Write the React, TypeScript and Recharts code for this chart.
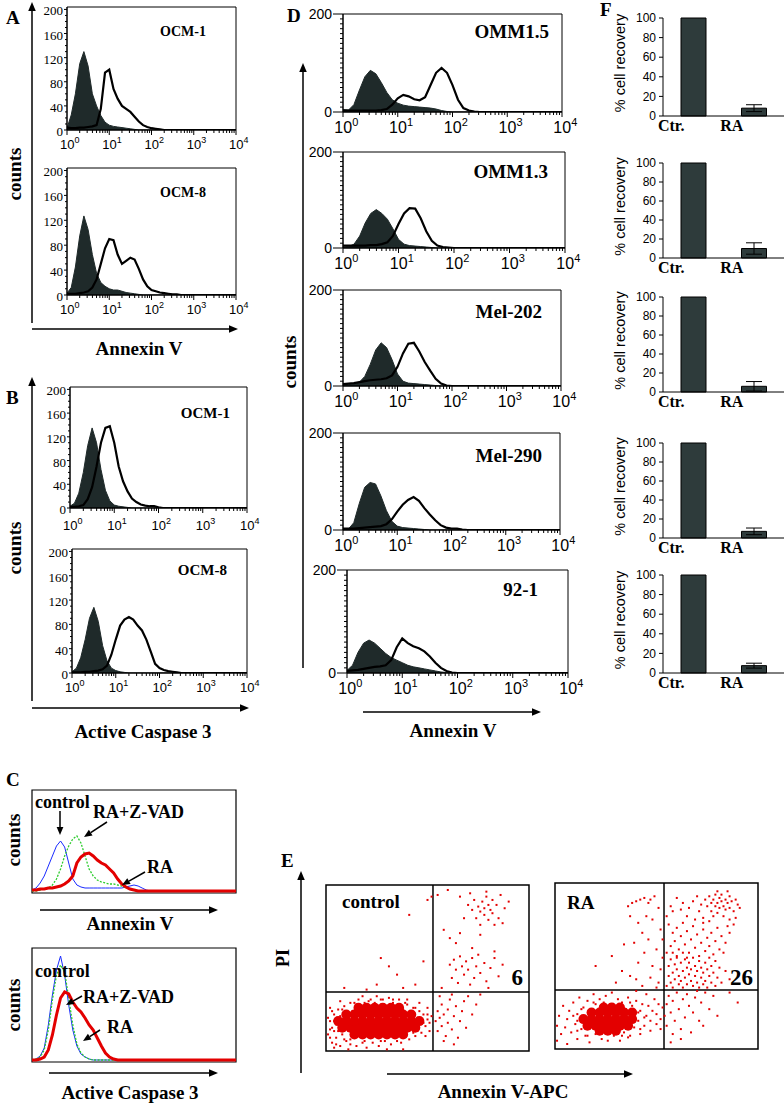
import React from 'react';
import {
  ComposedChart,
  Area,
  Line,
  XAxis,
  YAxis,
  ReferenceArea,
  ReferenceLine,
  ScatterChart,
  Scatter,
  BarChart,
  Bar,
  ErrorBar,
} from 'recharts';

const SERIF = '"Liberation Serif", "Times New Roman", serif';
const SANS = '"Liberation Sans", Arial, sans-serif';
const INK = '#000';
const FILLED = '#1f2a2a';
const RED = '#e30000';

// log channels, 10 per decade (10^0 .. 10^4)
const BINS = [
  1, 1.26, 1.58, 2, 2.51, 3.16, 3.98, 5.01, 6.31, 7.94, 10, 12.6, 15.8, 20, 25.1, 31.6, 39.8, 50.1, 63.1,
  79.4, 100, 126, 158, 200, 251, 316, 398, 501, 631, 794, 1000, 1259, 1585, 1995, 2512, 3162, 3981, 5012,
  6310, 7943, 10000,
];
const X_TICKS = [
  1, 2, 3, 4, 5, 6, 7, 8, 9, 10, 20, 30, 40, 50, 60, 70, 80, 90, 100, 200, 300, 400, 500, 600, 700, 800,
  900, 1000, 2000, 3000, 4000, 5000, 6000, 7000, 8000, 9000, 10000,
];
const X_LABEL_VALUES = [1, 10, 100, 1000, 10000];
const X_LABEL_EXP = ['0', '1', '2', '3', '4'];

const COUNT_TICKS = [0, 10, 20, 30, 40, 50, 60, 70, 80, 90, 100, 110, 120, 130, 140, 150, 160, 170, 180, 190, 200];
const AB_COUNT_LABELS = [0, 40, 80, 120, 160, 200];
const D_COUNT_LABELS = [0, 200];

// panel A (Annexin V) - filled = control, open = RA
const A_OCM1_FILLED = [3, 25, 60, 110, 130, 106, 60, 40, 24, 13, 8, 6, 5, 4, 3, 2, 1];
const A_OCM1_OPEN = [4, 3, 3, 4, 4, 5, 6, 8, 35, 95, 100, 68, 52, 40, 35, 30, 22, 14, 8, 5, 3, 2, 1];
const A_OCM8_FILLED = [3, 12, 45, 95, 127, 105, 65, 35, 20, 14, 10, 8, 8, 6, 4, 3, 2, 1];
const A_OCM8_OPEN = [2, 2, 2, 3, 4, 6, 12, 25, 50, 75, 90, 88, 65, 50, 55, 60, 57, 42, 25, 14, 8, 6, 4, 3, 2, 1, 1];

// panel B (Active Caspase 3)
const B_OCM1_FILLED = [3, 8, 25, 60, 105, 135, 110, 65, 30, 12, 5, 3, 2, 1];
const B_OCM1_OPEN = [2, 2, 3, 5, 15, 35, 70, 110, 135, 138, 110, 70, 45, 28, 16, 10, 6, 4, 3, 3, 1];
const B_OCM8_FILLED = [2, 8, 25, 55, 90, 108, 85, 45, 20, 8, 4, 2, 1];
const B_OCM8_OPEN = [1, 1, 1, 2, 2, 3, 4, 6, 12, 30, 55, 78, 88, 92, 88, 78, 70, 55, 35, 15, 8, 5, 3, 2, 1];

// panel C (relative units, 51 channels across)
const C_CHANNELS = 51;
const C1_CONTROL = [1, 3, 8, 15, 25, 35, 45, 50, 44, 28, 12, 6, 4, 3, 3, 3, 3, 3, 3, 3, 3, 3, 3, 4, 5, 6, 5, 3, 1];
const C1_ZVAD = [0, 0, 1, 2, 3, 6, 12, 22, 35, 45, 52, 55, 48, 35, 22, 15, 11, 9, 8, 7, 7, 6, 5, 3, 2, 1];
const C1_RA = [1, 1, 2, 2, 3, 3, 4, 5, 7, 10, 15, 28, 34, 37, 38, 35, 31, 28, 26, 22, 18, 12, 7, 4, 2, 1];
const C2_CONTROL = [0, 1, 4, 12, 35, 65, 90, 104, 85, 55, 30, 14, 6, 3, 1];
const C2_ZVAD = [0, 1, 3, 10, 30, 60, 85, 95, 88, 62, 35, 16, 7, 3, 1];
const C2_RA = [0, 0, 1, 3, 10, 25, 45, 62, 68, 66, 58, 52, 48, 42, 35, 30, 22, 14, 7, 3, 1];

// panel D (Annexin V, five cell lines)
const D_TITLES = ['OMM1.5', 'OMM1.3', 'Mel-202', 'Mel-290', '92-1'];
const D_OMM15_FILLED = [5, 4, 15, 45, 72, 85, 78, 60, 40, 25, 18, 14, 12, 11, 10, 9, 8, 6, 3, 1];
const D_OMM15_OPEN = [3, 3, 3, 3, 3, 3, 3, 4, 6, 15, 28, 35, 32, 26, 24, 30, 55, 80, 90, 80, 55, 25, 8, 3, 1];
const D_OMM13_FILLED = [2, 3, 8, 25, 52, 72, 80, 72, 60, 40, 18, 8, 5, 4, 3, 2, 1];
const D_OMM13_OPEN = [5, 5, 5, 5, 5, 6, 6, 8, 12, 25, 50, 72, 83, 82, 62, 35, 15, 5, 2, 1];
const D_MEL202_FILLED = [5, 3, 4, 8, 20, 45, 75, 90, 80, 55, 25, 10, 6, 5, 4, 3, 2, 1];
const D_MEL202_OPEN = [4, 5, 6, 8, 10, 12, 13, 14, 16, 22, 40, 68, 88, 90, 72, 50, 32, 15, 5, 1];
const D_MEL290_FILLED = [3, 2, 15, 55, 88, 98, 95, 70, 40, 18, 8, 5, 4, 3, 2, 1];
const D_MEL290_OPEN = [3, 3, 3, 4, 5, 6, 7, 8, 12, 22, 38, 52, 62, 68, 60, 45, 32, 20, 10, 5, 3, 3, 1];
const D_921_FILLED = [5, 15, 40, 58, 64, 58, 48, 38, 30, 25, 20, 15, 12, 10, 8, 6, 4, 2, 1];
const D_921_OPEN = [4, 5, 6, 8, 10, 12, 13, 15, 25, 50, 67, 58, 52, 48, 42, 32, 20, 10, 4, 1];

// panel E (Annexin V-APC vs PI, plot units 0-100)
const E_CONTROL_CORE = [
  [14, 10], [18, 10], [22, 10], [26, 10], [30, 10], [34, 10], [38, 10],
  [8, 14], [12, 14], [16, 14], [20, 14], [24, 14], [28, 14], [32, 14], [36, 14], [40, 14], [44, 14],
  [6, 18], [10, 18], [14, 18], [18, 18], [22, 18], [26, 18], [30, 18], [34, 18], [38, 18], [42, 18], [46, 18],
  [10, 22], [14, 22], [18, 22], [22, 22], [26, 22], [30, 22], [34, 22], [38, 22], [42, 22],
  [16, 26], [20, 26], [24, 26], [28, 26], [32, 26], [36, 26],
];
const E_CONTROL_DOTS = [
  [1, 10], [2, 18], [3, 5], [3, 14], [4, 22], [5, 8], [5, 16], [6, 12], [6, 25], [7, 3], [8, 19], [8, 10], [9, 27],
  [10, 6], [10, 22], [11, 13], [12, 29], [12, 4], [13, 24], [14, 8], [15, 28], [15, 3], [16, 31], [17, 26], [18, 5],
  [19, 29], [20, 2], [21, 27], [22, 31], [23, 5], [24, 29], [25, 33], [26, 3], [27, 28], [28, 31], [29, 6], [30, 27],
  [31, 32], [32, 4], [33, 29], [34, 8], [35, 27], [36, 31], [37, 5], [38, 25], [39, 10], [40, 28], [41, 7], [42, 22],
  [42, 13], [43, 26], [44, 9], [45, 20], [45, 14], [46, 24], [47, 11], [47, 18], [48, 22], [49, 15], [49, 9], [50, 19],
  [50, 26], [51, 12], [51, 17], [52, 21], [46, 29], [40, 31], [30, 1], [18, 33], [38, 1], [2, 26], [4, 2], [7, 30], [11, 1],
  [1, 20], [2, 8], [3, 24], [4, 12], [5, 4], [7, 21], [9, 7], [12, 7], [19, 6], [27, 6], [35, 6], [43, 11], [48, 17],
  [50, 22], [44, 26], [39, 29], [33, 31], [27, 31], [21, 30], [14, 29], [8, 25], [4, 18], [2, 13],
  [54, 18], [55, 24], [55, 12], [56, 20], [57, 28], [57, 15], [58, 22], [59, 9], [60, 25], [60, 17], [61, 31], [62, 13],
  [63, 21], [64, 27], [65, 8], [66, 18], [67, 24], [68, 30], [69, 14], [70, 33], [72, 22], [74, 28], [76, 34], [58, 6],
  [63, 4], [56, 33], [62, 34],
  [50, 91], [52, 93], [41, 82], [27, 56], [31, 51], [35, 46], [48, 54], [9, 38], [25, 40], [44, 40], [20, 37], [38, 38],
  [66, 93], [70, 88], [72, 85], [73, 91], [74, 80], [75, 87], [76, 84], [77, 90], [78, 86], [78, 82], [79, 93], [80, 88],
  [80, 79], [81, 85], [82, 91], [82, 83], [84, 88], [85, 80], [86, 94], [88, 86], [90, 90], [76, 76], [83, 76], [68, 80],
  [71, 95], [87, 77], [79, 96], [60, 97], [55, 94], [58, 73], [61, 68], [64, 65], [66, 71], [76, 70], [83, 60], [72, 62],
  [61, 52], [63, 55], [64, 49], [66, 57], [67, 51], [68, 46], [69, 54], [70, 49], [72, 56], [73, 44], [74, 51], [75, 58],
  [76, 47], [78, 53], [79, 42], [81, 50], [83, 56], [85, 45], [87, 52], [62, 44], [65, 41], [71, 40], [57, 38], [80, 38],
];
const E_RA_CORE = [
  [22, 11], [26, 11], [30, 11],
  [16, 14], [20, 14], [24, 14], [28, 14], [32, 14], [36, 14],
  [14, 18], [18, 18], [22, 18], [26, 18], [30, 18], [34, 18], [38, 18],
  [18, 22], [22, 22], [26, 22], [30, 22], [34, 22], [38, 22],
  [24, 25], [28, 25], [32, 25],
];
const E_RA_DOTS = [
  [1, 5], [1, 14], [2, 20], [3, 9], [4, 26], [5, 13], [6, 3], [6, 18], [7, 23], [8, 10], [9, 28], [10, 15], [11, 6],
  [11, 21], [12, 31], [13, 12], [14, 25], [15, 8], [15, 18], [16, 29], [17, 4], [18, 23], [19, 33], [20, 9], [20, 27],
  [21, 14], [22, 30], [23, 6], [24, 28], [25, 32], [26, 5], [27, 27], [28, 34], [29, 8], [30, 25], [31, 30], [32, 5],
  [33, 28], [34, 10], [35, 24], [36, 31], [37, 8], [38, 26], [39, 13], [40, 29], [41, 17], [42, 9], [42, 23], [43, 27],
  [44, 14], [45, 20], [46, 26], [47, 11], [47, 17], [48, 23], [49, 30], [50, 15], [50, 21], [51, 27], [52, 12], [52, 18],
  [53, 25], [45, 33], [40, 35], [9, 20], [11, 11], [13, 24], [16, 8], [19, 28], [33, 8], [37, 28], [41, 22], [42, 12],
  [44, 19], [36, 7], [11, 17],
  [36, 86], [38, 88], [40, 89], [42, 90], [44, 91], [46, 88], [47, 90], [49, 92], [37, 80], [41, 76], [45, 80], [48, 78],
  [51, 85], [43, 70], [39, 64], [46, 66], [50, 60], [52, 72], [44, 58], [48, 50], [52, 48], [41, 52], [47, 43], [51, 40],
  [37, 44], [33, 47], [43, 38], [50, 37], [20, 50], [28, 56], [34, 63], [53, 66], [53, 55], [40, 42], [30, 40],
  [74, 90], [75, 86], [76, 92], [77, 88], [77, 83], [78, 90], [79, 86], [79, 93], [80, 88], [80, 82], [81, 91], [81, 85],
  [82, 89], [82, 93], [83, 86], [83, 80], [84, 90], [84, 84], [85, 88], [86, 92], [86, 85], [87, 89], [88, 83], [89, 90],
  [90, 87], [78, 80], [85, 95], [80, 95], [91, 85], [72, 87], [70, 92], [68, 89], [71, 83], [66, 85], [63, 88], [60, 91],
  [57, 86], [55, 80], [58, 83], [62, 84], [65, 80], [69, 78], [73, 79], [76, 77], [86, 78], [89, 79],
  [56, 75], [58, 70], [59, 65], [60, 73], [61, 60], [62, 68], [63, 76], [64, 63], [65, 71], [66, 58], [67, 66], [68, 74],
  [69, 61], [70, 69], [71, 56], [72, 64], [73, 72], [74, 59], [75, 67], [76, 62], [77, 70], [78, 57], [79, 65], [80, 73],
  [81, 60], [82, 68], [84, 64], [86, 70], [88, 75], [57, 62], [55, 58], [83, 58], [60, 56], [65, 55], [73, 76], [85, 74],
  [55, 38], [56, 44], [56, 50], [57, 40], [57, 54], [58, 46], [58, 37], [59, 42], [59, 51], [60, 48], [60, 55], [61, 39],
  [61, 44], [62, 52], [62, 41], [63, 47], [63, 37], [64, 54], [64, 43], [65, 49], [65, 39], [66, 45], [66, 52], [67, 41],
  [67, 48], [68, 55], [68, 38], [69, 44], [69, 50], [70, 40], [70, 47], [71, 53], [71, 37], [72, 43], [72, 49], [73, 39],
  [73, 46], [74, 52], [74, 41], [75, 48], [75, 37], [76, 44], [77, 50], [77, 40], [78, 46], [79, 38], [80, 43], [81, 49],
  [82, 40], [76, 55], [79, 53], [84, 47], [86, 42], [58, 58], [63, 58],
  [54, 20], [55, 27], [55, 14], [56, 32], [57, 22], [58, 9], [58, 29], [59, 17], [60, 34], [61, 24], [62, 12], [63, 30],
  [64, 19], [65, 33], [66, 26], [67, 10], [68, 22], [69, 31], [70, 35], [71, 17], [72, 28], [74, 34], [76, 24], [78, 32],
  [80, 20], [73, 14], [57, 4], [62, 6], [86, 34], [90, 28],
];

// panel F (% cell recovery)
const F_CATEGORIES = ['Ctr.', 'RA'];
const F_CTR = [100, 100, 100, 100, 100];
const F_RA = [8, 10, 6, 7, 7.5];
const F_RA_ERR = [3.5, 6, 5, 3.5, 2.5];
const F_TICKS = [0, 20, 40, 60, 80, 100];

type XTickStyle = { font: string; size: number; sup: number; dy: number };
type YTickStyle = { labels: number[]; font: string; size: number; major: number; minor: number; dy: number };

const makeLogTick = (s: XTickStyle) => (props: any) => {
  const { x, y, payload } = props;
  const idx = X_LABEL_VALUES.indexOf(payload.value);
  const major = idx >= 0;
  return (
    <g>
      <line x1={x} x2={x} y1={y} y2={y + (major ? 5 : 3)} stroke={INK} strokeWidth={1} />
      {major && (
        <text x={x + s.sup * 0.3} y={y + s.dy} textAnchor="middle" fontFamily={s.font} fontSize={s.size} fill={INK}>
          10
          <tspan dy={-s.size * 0.45} fontSize={s.sup}>
            {X_LABEL_EXP[idx]}
          </tspan>
        </text>
      )}
    </g>
  );
};

const makeCountTick = (s: YTickStyle) => (props: any) => {
  const { x, y, payload } = props;
  const lab = s.labels.includes(payload.value);
  return (
    <g>
      <line x1={x - (lab ? s.major : s.minor)} x2={x} y1={y} y2={y} stroke={INK} strokeWidth={1} />
      {lab && (
        <text x={x - s.major - 1} y={y + s.dy} textAnchor="end" fontFamily={s.font} fontSize={s.size} fill={INK}>
          {payload.value}
        </text>
      )}
    </g>
  );
};

const AB_X = { font: SANS, size: 13, sup: 9, dy: 19 };
const AB_Y = { labels: AB_COUNT_LABELS, font: SERIF, size: 13, major: 3, minor: 2, dy: 6 };
const D_X = { font: SANS, size: 16, sup: 11, dy: 21 };
const D_Y = { labels: D_COUNT_LABELS, font: SANS, size: 14, major: 10, minor: 3, dy: 5 };

const YW = 50;
const MT = 8;
const MR = 20;
const XH = 30;

type HistProps = {
  left: number;
  top: number;
  right: number;
  bottom: number;
  yMax: number;
  filled: number[];
  open: number[];
  xs: XTickStyle;
  ys: YTickStyle;
};

function Histogram({ left, top, right, bottom, yMax, filled, open, xs, ys }: HistProps) {
  const data = BINS.map((x, i) => ({ x, f: filled[i] ?? 0, o: open[i] ?? 0 }));
  const w = right - left;
  const h = bottom - top;
  return (
    <div style={{ position: 'absolute', left: left - YW, top: top - MT }}>
      <ComposedChart
        width={YW + w + MR}
        height={MT + h + XH}
        data={data}
        margin={{ top: MT, right: MR, bottom: 0, left: 0 }}
      >
        <XAxis
          dataKey="x"
          type="number"
          scale="log"
          domain={[1, 10000]}
          ticks={X_TICKS}
          interval={0}
          height={XH}
          tickSize={0}
          tickMargin={0}
          axisLine={{ stroke: INK }}
          tick={makeLogTick(xs)}
          allowDataOverflow
        />
        <YAxis
          type="number"
          domain={[0, yMax]}
          ticks={COUNT_TICKS}
          interval={0}
          width={YW}
          tickSize={0}
          tickMargin={0}
          axisLine={{ stroke: INK }}
          tick={makeCountTick(ys)}
          allowDataOverflow
        />
        <Area
          dataKey="f"
          type="linear"
          fill={FILLED}
          fillOpacity={1}
          stroke={FILLED}
          strokeWidth={1}
          dot={false}
          activeDot={false}
          isAnimationActive={false}
        />
        <Line
          dataKey="o"
          type="linear"
          stroke={INK}
          strokeWidth={2.2}
          dot={false}
          activeDot={false}
          isAnimationActive={false}
        />
        <ReferenceArea x1={1} x2={10000} y1={0} y2={yMax} fill="none" stroke={INK} strokeWidth={1} />
      </ComposedChart>
    </div>
  );
}

type OverlayProps = {
  left: number;
  top: number;
  right: number;
  bottom: number;
  yMax: number;
  control: number[];
  zvad: number[];
  ra: number[];
};

function OverlayHistogram({ left, top, right, bottom, yMax, control, zvad, ra }: OverlayProps) {
  const data = Array.from({ length: C_CHANNELS }, (_, i) => ({
    i,
    b: control[i] ?? 0,
    g: zvad[i] ?? 0,
    r: ra[i] ?? 0,
  }));
  const w = right - left;
  const h = bottom - top;
  return (
    <div style={{ position: 'absolute', left: left - 2, top: top - 2 }}>
      <ComposedChart width={w + 4} height={h + 4} data={data} margin={{ top: 2, right: 2, bottom: 2, left: 2 }}>
        <XAxis dataKey="i" type="number" domain={[0, C_CHANNELS - 1]} hide />
        <YAxis type="number" domain={[-2, yMax]} hide />
        <Line dataKey="b" type="linear" stroke="#1a2bff" strokeWidth={1} dot={false} activeDot={false} isAnimationActive={false} />
        <Line
          dataKey="g"
          type="linear"
          stroke="#2ccc2c"
          strokeWidth={1.3}
          strokeDasharray="2 1.5"
          dot={false}
          activeDot={false}
          isAnimationActive={false}
        />
        <Line dataKey="r" type="linear" stroke={RED} strokeWidth={3} dot={false} activeDot={false} isAnimationActive={false} />
        <ReferenceArea x1={0} x2={C_CHANNELS - 1} y1={-2} y2={yMax} fill="none" stroke={INK} strokeWidth={1.2} />
      </ComposedChart>
    </div>
  );
}

type DotProps = {
  left: number;
  top: number;
  right: number;
  bottom: number;
  qx: number;
  qy: number;
  core: number[][];
  dots: number[][];
};

const toXY = (pts: number[][]) => pts.map(([x, y]) => ({ x, y }));

function DotPlot({ left, top, right, bottom, qx, qy, core, dots }: DotProps) {
  const w = right - left;
  const h = bottom - top;
  return (
    <div style={{ position: 'absolute', left: left - 3, top: top - 3 }}>
      <ScatterChart width={w + 6} height={h + 6} margin={{ top: 3, right: 3, bottom: 3, left: 3 }}>
        <XAxis type="number" dataKey="x" domain={[0, 100]} hide />
        <YAxis type="number" dataKey="y" domain={[0, 100]} hide />
        <Scatter
          data={toXY(core)}
          isAnimationActive={false}
          shape={(p: any) => <circle cx={p.cx} cy={p.cy} r={5} fill={RED} />}
        />
        <Scatter
          data={toXY(dots)}
          isAnimationActive={false}
          shape={(p: any) => <rect x={p.cx - 1} y={p.cy - 1} width={2} height={2} fill={RED} />}
        />
        <ReferenceLine x={qx} stroke={INK} strokeWidth={1.5} />
        <ReferenceLine y={qy} stroke={INK} strokeWidth={1.5} />
        <ReferenceArea x1={0} x2={100} y1={0} y2={100} fill="none" stroke={INK} strokeWidth={1.5} />
      </ScatterChart>
    </div>
  );
}

const categoryTick = (props: any) => {
  const { x, y, payload } = props;
  return (
    <text x={x - 22} y={y + 15} textAnchor="middle" fontFamily={SERIF} fontWeight="bold" fontSize={16} fill={INK}>
      {payload.value}
    </text>
  );
};

function RecoveryBars({ idx, y100, y0 }: { idx: number; y100: number; y0: number }) {
  const data = F_CATEGORIES.map((name, i) => ({
    name,
    v: i === 0 ? F_CTR[idx] : F_RA[idx],
    e: i === 0 ? 0 : F_RA_ERR[idx],
  }));
  const ph = y0 - y100;
  const mt = 8;
  return (
    <div style={{ position: 'absolute', left: 600, top: y100 - mt }}>
      <BarChart width={184} height={mt + ph + 24} data={data} margin={{ top: mt, right: 0, bottom: 0, left: 0 }} barSize={25}>
        <XAxis
          dataKey="name"
          height={24}
          tickLine={false}
          tickSize={0}
          tickMargin={0}
          axisLine={{ stroke: INK }}
          tick={categoryTick}
          interval={0}
        />
        <YAxis
          type="number"
          domain={[0, 100]}
          ticks={F_TICKS}
          interval={0}
          width={63}
          tickSize={4}
          tickMargin={3}
          axisLine={{ stroke: INK }}
          tickLine={{ stroke: INK }}
          tick={{ fontFamily: SANS, fontSize: 12, fill: INK }}
        />
        <Bar dataKey="v" fill="#2e3b3b" stroke={INK} strokeWidth={1} isAnimationActive={false}>
          <ErrorBar dataKey="e" width={8} stroke={INK} strokeWidth={1} />
        </Bar>
      </BarChart>
    </div>
  );
}

function Arrow({ x1, y1, x2, y2, w = 1.5, head = 9 }: { x1: number; y1: number; x2: number; y2: number; w?: number; head?: number }) {
  const a = Math.atan2(y2 - y1, x2 - x1);
  const hx = x2 - head * Math.cos(a);
  const hy = y2 - head * Math.sin(a);
  const px = Math.sin(a) * head * 0.42;
  const py = -Math.cos(a) * head * 0.42;
  return (
    <g>
      <line x1={x1} y1={y1} x2={hx} y2={hy} stroke={INK} strokeWidth={w} />
      <polygon points={`${x2},${y2} ${hx + px},${hy + py} ${hx - px},${hy - py}`} fill={INK} />
    </g>
  );
}

const bold = { fontFamily: SERIF, fontWeight: 'bold' as const, fill: INK };

function VText({ x, y, size, children, font }: { x: number; y: number; size: number; children: React.ReactNode; font?: string }) {
  return (
    <text
      x={x}
      y={y}
      transform={`rotate(-90, ${x}, ${y})`}
      textAnchor="middle"
      dominantBaseline="central"
      fontSize={size}
      {...(font ? { fontFamily: font, fill: INK } : bold)}
    >
      {children}
    </text>
  );
}

function Labels() {
  const F_ROWS = [
    [18, 116],
    [163, 258],
    [297, 392],
    [443, 538],
    [575, 673],
  ];
  return (
    <svg width={784} height={1103} style={{ position: 'absolute', left: 0, top: 0, pointerEvents: 'none' }}>
      {/* panel letters */}
      <text x={6} y={24} fontSize={19} {...bold}>A</text>
      <text x={6} y={404} fontSize={19} {...bold}>B</text>
      <text x={6} y={786} fontSize={19} {...bold}>C</text>
      <text x={287} y={22} fontSize={19} {...bold}>D</text>
      <text x={281} y={867} fontSize={19} {...bold}>E</text>
      <text x={600} y={16} fontSize={19} {...bold}>F</text>

      {/* A */}
      <Arrow x1={32} y1={323} x2={32} y2={2} />
      <Arrow x1={32} y1={329} x2={238} y2={329} />
      <VText x={14} y={174} size={19}>counts</VText>
      <text x={139} y={355} textAnchor="middle" fontSize={19} {...bold}>Annexin V</text>
      <text x={206} y={36} textAnchor="end" fontSize={14} {...bold}>OCM-1</text>
      <text x={206} y={197} textAnchor="end" fontSize={14} {...bold}>OCM-8</text>

      {/* B */}
      <Arrow x1={32} y1={701} x2={32} y2={377} />
      <Arrow x1={32} y1={708} x2={249} y2={708} />
      <VText x={14} y={548} size={19}>counts</VText>
      <text x={143} y={738} textAnchor="middle" fontSize={19} {...bold}>Active Caspase 3</text>
      <text x={230} y={418} textAnchor="end" fontSize={15} {...bold}>OCM-1</text>
      <text x={227} y={575} textAnchor="end" fontSize={15} {...bold}>OCM-8</text>

      {/* C */}
      <VText x={13} y={840} size={19}>counts</VText>
      <Arrow x1={40} y1={910} x2={218} y2={910} />
      <text x={130} y={930} textAnchor="middle" fontSize={19} {...bold}>Annexin V</text>
      <text x={35} y={808} fontSize={18} {...bold}>control</text>
      <Arrow x1={60} y1={811} x2={60} y2={835} head={8} />
      <text x={93} y={818} fontSize={18} {...bold}>RA+Z-VAD</text>
      <Arrow x1={107} y1={822} x2={84} y2={837} head={8} />
      <text x={147} y={873} fontSize={18} {...bold}>RA</text>
      <Arrow x1={145} y1={872} x2={122} y2={885} head={8} />

      <VText x={13} y={1005} size={19}>counts</VText>
      <Arrow x1={49} y1={1073} x2={218} y2={1073} />
      <text x={130} y={1099} textAnchor="middle" fontSize={19} {...bold}>Active Caspase 3</text>
      <text x={35} y={977} fontSize={18} {...bold}>control</text>
      <text x={83} y={1003} fontSize={18} {...bold}>RA+Z-VAD</text>
      <Arrow x1={82} y1={996} x2={66} y2={1005} head={8} />
      <text x={107} y={1033} fontSize={18} {...bold}>RA</text>
      <Arrow x1={100} y1={1030} x2={83} y2={1041} head={8} />

      {/* D */}
      <Arrow x1={303} y1={668} x2={303} y2={63} />
      <Arrow x1={363} y1={712} x2={541} y2={712} />
      <VText x={289} y={362} size={19}>counts</VText>
      <text x={453} y={737} textAnchor="middle" fontSize={19} {...bold}>Annexin V</text>
      <text x={549} y={38} textAnchor="end" fontSize={19} {...bold}>{D_TITLES[0]}</text>
      <text x={548} y={178} textAnchor="end" fontSize={19} {...bold}>{D_TITLES[1]}</text>
      <text x={542} y={318} textAnchor="end" fontSize={19} {...bold}>{D_TITLES[2]}</text>
      <text x={542} y={462} textAnchor="end" fontSize={19} {...bold}>{D_TITLES[3]}</text>
      <text x={538} y={596} textAnchor="end" fontSize={19} {...bold}>{D_TITLES[4]}</text>

      {/* E */}
      <Arrow x1={301} y1={1073} x2={301} y2={871} />
      <Arrow x1={387} y1={1074} x2={633} y2={1074} />
      <VText x={283} y={958} size={18}>PI</VText>
      <text x={503} y={1098} textAnchor="middle" fontSize={19} {...bold}>Annexin V-APC</text>
      <text x={342} y={908} fontSize={19} {...bold}>control</text>
      <text x={567} y={909} fontSize={19} {...bold}>RA</text>
      <text x={523} y={985} textAnchor="end" fontSize={23} {...bold}>6</text>
      <text x={753} y={985} textAnchor="end" fontSize={23} {...bold}>26</text>

      {/* F */}
      {F_ROWS.map(([a, b], i) => (
        <VText key={i} x={620} y={(a + b) / 2 - 4} size={14.5} font={SANS}>
          % cell recovery
        </VText>
      ))}
    </svg>
  );
}

export default function App() {
  return (
    <div style={{ position: 'absolute', left: 0, top: 0, width: 784, height: 1103, background: '#fff', overflow: 'hidden' }}>
      {/* A */}
      <Histogram left={67} top={7} right={236} bottom={130} yMax={204} filled={A_OCM1_FILLED} open={A_OCM1_OPEN} xs={AB_X} ys={AB_Y} />
      <Histogram left={67} top={168} right={236} bottom={295} yMax={204} filled={A_OCM8_FILLED} open={A_OCM8_OPEN} xs={{ ...AB_X, dy: 19 }} ys={AB_Y} />
      {/* B */}
      <Histogram left={70} top={387} right={247} bottom={508} yMax={204} filled={B_OCM1_FILLED} open={B_OCM1_OPEN} xs={{ ...AB_X, dy: 22 }} ys={AB_Y} />
      <Histogram left={72} top={549} right={247} bottom={673} yMax={204} filled={B_OCM8_FILLED} open={B_OCM8_OPEN} xs={{ ...AB_X, dy: 19 }} ys={AB_Y} />
      {/* C */}
      <OverlayHistogram left={32} top={790} right={236} bottom={893} yMax={101} control={C1_CONTROL} zvad={C1_ZVAD} ra={C1_RA} />
      <OverlayHistogram left={32} top={948} right={236} bottom={1062} yMax={112} control={C2_CONTROL} zvad={C2_ZVAD} ra={C2_RA} />
      {/* D */}
      <Histogram left={343} top={14} right={562} bottom={112} yMax={200} filled={D_OMM15_FILLED} open={D_OMM15_OPEN} xs={D_X} ys={D_Y} />
      <Histogram left={343} top={152} right={565} bottom={248} yMax={200} filled={D_OMM13_FILLED} open={D_OMM13_OPEN} xs={D_X} ys={D_Y} />
      <Histogram left={343} top={290} right={561} bottom={386} yMax={200} filled={D_MEL202_FILLED} open={D_MEL202_OPEN} xs={D_X} ys={D_Y} />
      <Histogram left={343} top={433} right={560} bottom={530} yMax={200} filled={D_MEL290_FILLED} open={D_MEL290_OPEN} xs={D_X} ys={D_Y} />
      <Histogram left={347} top={570} right={568} bottom={673} yMax={200} filled={D_921_FILLED} open={D_921_OPEN} xs={D_X} ys={D_Y} />
      {/* E */}
      <DotPlot left={326} top={885} right={529} bottom={1051} qx={52.7} qy={35.5} core={E_CONTROL_CORE} dots={E_CONTROL_DOTS} />
      <DotPlot left={555} top={883} right={758} bottom={1049} qx={53.7} qy={35.5} core={E_RA_CORE} dots={E_RA_DOTS} />
      {/* F */}
      <RecoveryBars idx={0} y100={18} y0={116} />
      <RecoveryBars idx={1} y100={163} y0={258} />
      <RecoveryBars idx={2} y100={297} y0={392} />
      <RecoveryBars idx={3} y100={443} y0={538} />
      <RecoveryBars idx={4} y100={575} y0={673} />
      <Labels />
    </div>
  );
}
